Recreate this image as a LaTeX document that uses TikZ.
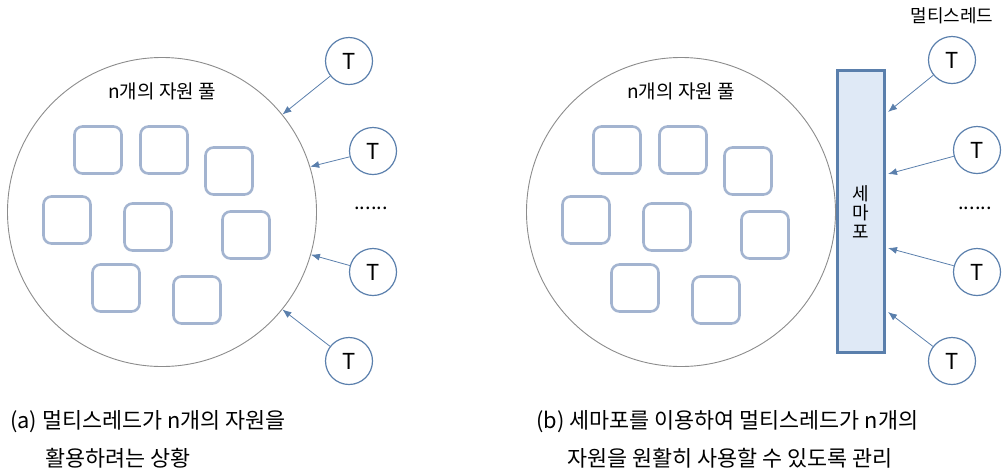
\documentclass[tikz,border=0pt]{standalone}
\usepackage{fontspec}
\setmainfont{Noto Sans CJK KR}
\usetikzlibrary{arrows.meta}

\definecolor{poolgray}{HTML}{8C8C8C}
\definecolor{resblue}{HTML}{A3B4D0}
\definecolor{thblue}{HTML}{5A7FAC}
\definecolor{semafill}{HTML}{DFE9F6}

\tikzset{
  pool/.style={circle, draw=poolgray, line width=0.9pt, minimum size=309pt, inner sep=0pt},
  res/.style={draw=resblue, line width=2.6pt, rounded corners=8pt, minimum size=47pt, inner sep=0pt},
  thread/.style={circle, draw=thblue, line width=1.2pt, minimum size=47pt, inner sep=0pt,
    font=\fontsize{22}{22}\selectfont},
  req/.style={draw=thblue, line width=0.8pt, -{Latex[length=9pt,width=7pt]}},
  lbl/.style={font=\fontsize{19}{19}\selectfont},
  more/.style={font=\fontsize{20}{20}\selectfont},
  caption/.style={anchor=west, inner sep=0pt, font=\fontsize{21.8}{22}\selectfont}
}

\begin{document}
\begin{tikzpicture}[x=1pt, y=-1pt]
  \useasboundingbox (0,0) rectangle (1007,475);

  % (a) resource pool and threads
  \node[pool] (poolA) at (162,212) {};
  \node[lbl] (nameA) at (162,91) {n개의 자원 풀};
  \node[thread] (tA1) at (349,61) {T};
  \node[thread] (tA2) at (373,151) {T};
  \node[thread] (tA3) at (373,272) {T};
  \node[thread] (tA4) at (349,361) {T};
  \node[more] (dotsA) at (371,208) {......};
  \draw[req] (tA1) -- (poolA.39);
  \draw[req] (tA2) -- (poolA.17);
  \draw[req] (tA3) -- (poolA.-16);
  \draw[req] (tA4) -- (poolA.-39);

  % (b) the same pool behind a semaphore
  \node[pool] (poolB) at (681,212) {};
  \node[lbl] (nameB) at (681,91) {n개의 자원 풀};
  \node[draw=thblue, fill=semafill, line width=3.2pt, minimum width=47pt, minimum height=282pt,
    inner sep=0pt] (sema) at (861,211.5) {};
  \node[align=center, font=\fontsize{18}{19}\selectfont] (semaname) at (861,212) {세\\마\\포};
  \node[font=\fontsize{18}{18}\selectfont] (multi) at (952,16) {멀티스레드};
  \node[thread] (tB1) at (952,60) {T};
  \node[thread] (tB2) at (977,150) {T};
  \node[thread] (tB3) at (977,272) {T};
  \node[thread] (tB4) at (952,361) {T};
  \node[more] (dotsB) at (975,208) {......};
  \coordinate (s1) at (888,112);
  \coordinate (s2) at (888,174);
  \coordinate (s3) at (888,248);
  \coordinate (s4) at (888,312);
  \draw[req] (tB1) -- (s1);
  \draw[req] (tB2) -- (s2);
  \draw[req] (tB3) -- (s3);
  \draw[req] (tB4) -- (s4);

  % resources, same places in both pools
  \foreach \x/\y [count=\i] in {98/150, 164/150, 229/171, 67/220, 148/227, 246/235, 116/288, 197/300} {
    \node[res] (resA\i) at (\x,\y) {};
    \node[res] (resB\i) at (\x+519,\y) {};
  }

  % captions
  \node[caption] (capA1) at (10,422) {(a) 멀티스레드가 n개의 자원을};
  \node[caption] (capA2) at (45,458) {활용하려는 상황};
  \node[caption] (capB1) at (536,422) {(b) 세마포를 이용하여 멀티스레드가 n개의};
  \node[caption] (capB2) at (567,458) {자원을 원활히 사용할 수 있도록 관리};
\end{tikzpicture}
\end{document}
